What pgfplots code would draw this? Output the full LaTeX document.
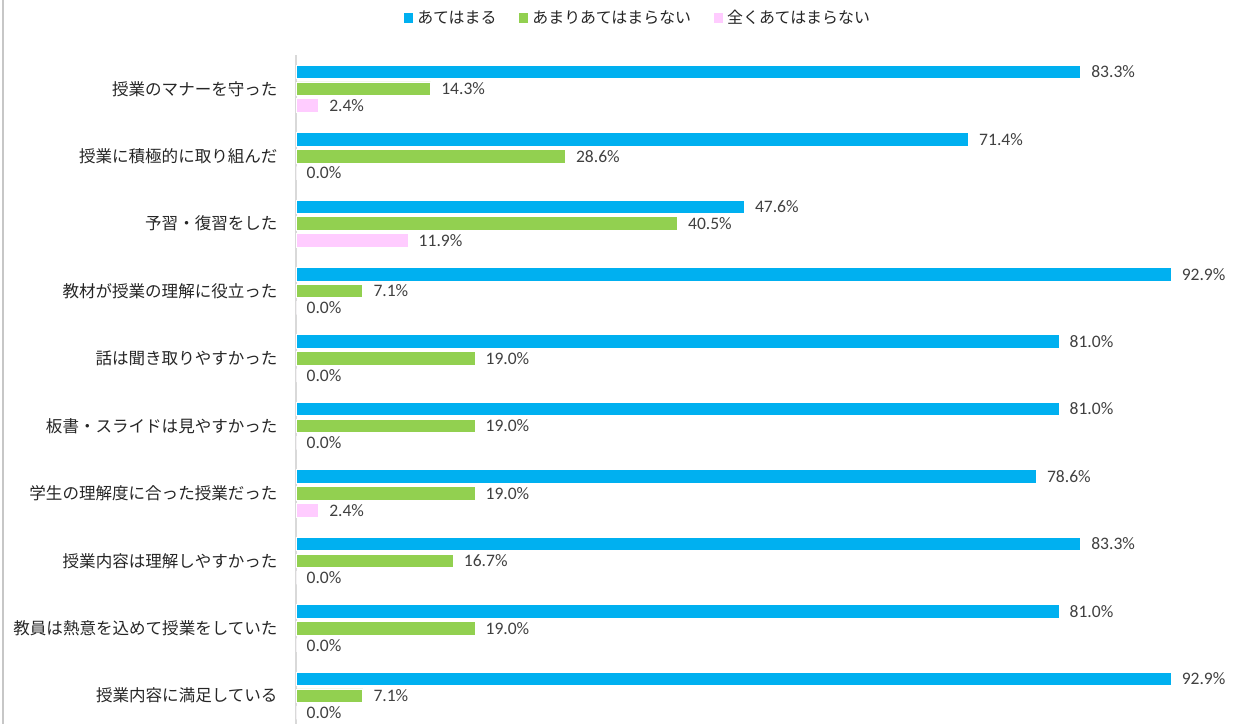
\documentclass[border=0pt]{standalone}
\usepackage{fontspec}
\setmainfont{Carlito}
\newfontfamily\jp{Noto Sans CJK JP}
\usepackage{pgfplots}
\usepackage{pgfplotstable}
\pgfplotsset{compat=1.18}
\definecolor{cblue}{HTML}{00B0F0}
\definecolor{cgreen}{HTML}{92D050}
\definecolor{cpink}{HTML}{FFCCFF}
\definecolor{lbl}{HTML}{404040}
\definecolor{cat}{HTML}{262626}
\pgfplotstableread{
y a b c
0 83.3 14.3 2.4
1 71.4 28.6 0.0
2 47.6 40.5 11.9
3 92.9 7.1 0.0
4 81.0 19.0 0.0
5 81.0 19.0 0.0
6 78.6 19.0 2.4
7 83.3 16.7 0.0
8 81.0 19.0 0.0
9 92.9 7.1 0.0
}\data
\begin{document}
\begin{tikzpicture}
\useasboundingbox (0,0) rectangle (618bp,362bp);
\draw[black!22, line width=0.6bp] (1.5bp,0) -- (1.5bp,362bp);
\begin{axis}[
  at={(148bp,0bp)}, anchor=south west,
  scale only axis, width=471bp, height=334.5bp,
  xbar, bar width=0.2,
  xmin=0, xmax=100, ymin=-0.5, ymax=9.42, y dir=reverse,
  axis x line=none, axis y line=left,
  y axis line style={-, draw=black!15, line width=0.6bp},
  xtick=\empty,
  ytick={0,...,9},
  ytick style={draw=none},
  yticklabels={授業のマナーを守った,授業に積極的に取り組んだ,予習・復習をした,教材が授業の理解に役立った,話は聞き取りやすかった,板書・スライドは見やすかった,学生の理解度に合った授業だった,授業内容は理解しやすかった,教員は熱意を込めて授業をしていた,授業内容に満足している},
  yticklabel style={font=\jp\fontsize{8.3}{9.5}\selectfont, text=cat, xshift=-3.6bp},
  point meta=x,
  nodes near coords={\pgfmathprintnumber[fixed,fixed zerofill,precision=1]{\pgfplotspointmeta}\%},
  /pgf/number format/assume math mode=true,
  every node near coord/.append style={font=\fontsize{8.8}{10}\selectfont, text=lbl, anchor=west, xshift=1.8bp},
  legend style={at={(0.364,1.055)}, anchor=center, draw=none, fill=none, legend columns=3,
    font=\jp\fontsize{8}{9}\selectfont, text=cat,
    /tikz/every even column/.append style={column sep=9.2bp}},
  legend image code/.code={\fill[#1, draw=none] (0bp,-2.4bp) rectangle (4.8bp,2.4bp);},
  clip=false,
]
\addplot[fill=cblue, draw=white, line width=0.4bp, bar shift=-0.25] table[x=a,y=y]{\data};
\addplot[fill=cgreen, draw=white, line width=0.4bp, bar shift=0] table[x=b,y=y]{\data};
\addplot[fill=cpink, draw=white, line width=0.4bp, bar shift=0.25] table[x=c,y=y]{\data};
\legend{あてはまる,あまりあてはまらない,全くあてはまらない}
\end{axis}
\end{tikzpicture}
\end{document}
